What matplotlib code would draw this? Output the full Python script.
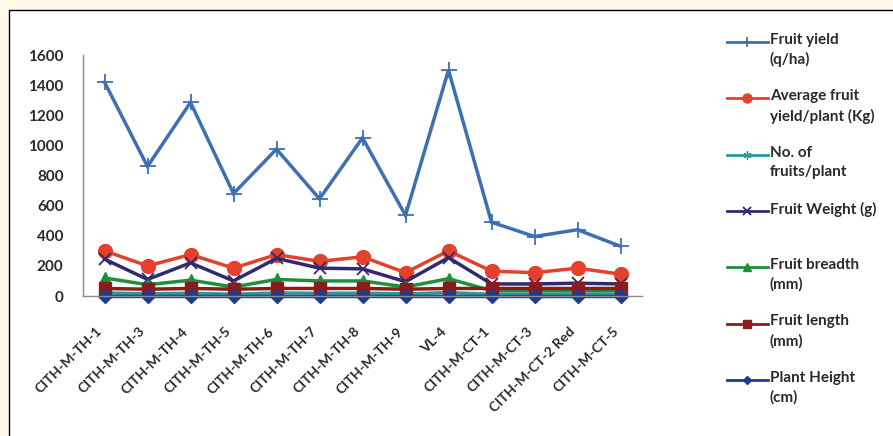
# Chilli genotype trait comparison - line chart
import matplotlib
matplotlib.use('Agg')
import matplotlib.pyplot as plt
from matplotlib.lines import Line2D
from matplotlib.patches import Rectangle

plt.rcParams['font.family'] = ['Lato', 'DejaVu Sans']
plt.rcParams['font.weight'] = 'bold'

genotypes = ['CITH-M-TH-1', 'CITH-M-TH-3', 'CITH-M-TH-4', 'CITH-M-TH-5',
             'CITH-M-TH-6', 'CITH-M-TH-7', 'CITH-M-TH-8', 'CITH-M-TH-9',
             'VL-4', 'CITH-M-CT-1', 'CITH-M-CT-3', 'CITH-M-CT-2 Red',
             'CITH-M-CT-5']

fruit_yield = [1420, 860, 1285, 680, 975, 645, 1050, 535, 1500, 490, 395, 440, 330]
avg_yield_plant = [300, 200, 275, 185, 275, 230, 260, 155, 300, 165, 155, 185, 145]
no_fruits = [20, 15, 18, 12, 20, 18, 19, 14, 22, 12, 11, 13, 12]
fruit_weight = [245, 110, 220, 100, 250, 185, 180, 95, 255, 80, 80, 85, 80]
fruit_breadth = [120, 75, 105, 60, 110, 100, 100, 60, 115, 35, 35, 35, 35]
fruit_length = [50, 45, 50, 45, 50, 50, 50, 45, 50, 50, 50, 50, 50]
plant_height = [1, 1, 1, 1, 1, 1, 1, 1, 1, 1, 1, 1, 1]

series = [
    ('Fruit yield\n(q/ha)', fruit_yield, '#3f6fb3', '+', 11, 1.3),
    ('Average fruit\nyield/plant (Kg)', avg_yield_plant, '#e5402b', 'o', 10, 1.0),
    ('No. of\nfruits/plant', no_fruits, '#2a9a9e', (6, 2, 0), 9, 1.0),
    ('Fruit Weight (g)', fruit_weight, '#2f2b6c', 'x', 8, 1.3),
    ('Fruit breadth\n(mm)', fruit_breadth, '#1f8f3a', '^', 9, 1.0),
    ('Fruit length\n(mm)', fruit_length, '#8a1c1c', 's', 8, 1.0),
    ('Plant Height\n(cm)', plant_height, '#1d3c8f', 'D', 7, 1.0),
]

W, H = 893, 436
fig = plt.figure(figsize=(W / 100, H / 100), dpi=100, facecolor='#fdf8e7')
fig.add_artist(Rectangle((9 / W, -0.1), 2, 1 - 10 / H + 0.1,
                         transform=fig.transFigure, facecolor='white',
                         edgecolor='black', lw=1.0, zorder=-1))

ax = fig.add_axes([83 / W, 140 / H, (642 - 83) / W, (296 - 55) / H])
ax.set_facecolor('none')

x = range(len(genotypes))
for label, vals, color, marker, ms, mew in series:
    ax.plot(x, vals, color=color, lw=2.5, marker=marker, markersize=ms,
            markeredgewidth=mew, markerfacecolor=color, markeredgecolor=color,
            solid_joinstyle='miter', clip_on=False)

ax.set_ylim(0, 1600)
ax.set_yticks(range(0, 1601, 200))
ax.set_xlim(-0.5, len(genotypes) - 0.5)
ax.set_xticks(list(x))
ax.set_xticklabels(genotypes, rotation=45, ha='right', va='top',
                   fontsize=10, color='#2a2a2a')
ax.tick_params(axis='x', length=0, pad=21)
ax.tick_params(axis='y', length=0, pad=14, labelsize=11, labelcolor='#2a2a2a')
for s in ['top', 'right']:
    ax.spines[s].set_visible(False)
for s in ['left', 'bottom']:
    ax.spines[s].set_color('#8c8c8c')
    ax.spines[s].set_linewidth(1.0)

# legend drawn by hand so the key sits on the first line of each label
for i, (label, vals, color, marker, ms, mew) in enumerate(series):
    y = 42 + i * 56.3
    yf = 1 - y / H
    fig.add_artist(Line2D([727 / W, 768 / W], [yf, yf], transform=fig.transFigure,
                          color=color, lw=2, marker=None))
    fig.add_artist(Line2D([747 / W], [yf], transform=fig.transFigure,
                          color=color, marker=marker, markersize=ms * 0.65,
                          markeredgewidth=mew, markerfacecolor=color))
    fig.text(770 / W, 1 - (y - 9) / H, label, va='top', ha='left',
             fontsize=11, linespacing=1.45, color='#2a2a2a')

fig.savefig('out.png', dpi=100, facecolor=fig.get_facecolor())
